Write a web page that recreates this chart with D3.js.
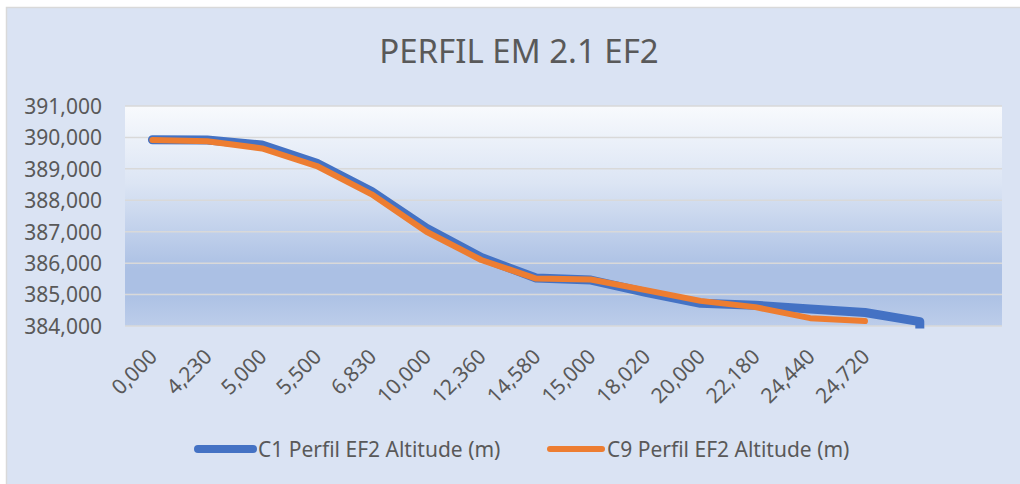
<!DOCTYPE html>
<html>
<head>
<meta charset="utf-8">
<script src="https://cdn.jsdelivr.net/npm/d3@7"></script>
<style>
  html, body { margin: 0; padding: 0; background: #ffffff; }
  svg { display: block; }
  text { font-family: "Noto Sans", "Open Sans", sans-serif; fill: #595959; }
</style>
</head>
<body>
<svg id="chart" width="1020" height="484"></svg>
<script>
// ---- data ----
const categories = ["0,000", "4,230", "5,000", "5,500", "6,830", "10,000", "12,360", "14,580",
                    "15,000", "18,020", "20,000", "22,180", "24,440", "24,720", "", " "];
const seriesNames = ["C1 Perfil EF2 Altitude (m)", "C9 Perfil EF2 Altitude (m)"];
const c1Values = [389925, 389915, 389760, 389180, 388280, 387110, 386180, 385530,
                  385460, 385070, 384720, 384660, 384540, 384430, 384140, 0];
const c9Values = [389920, 389880, 389650, 389090, 388190, 387000, 386100, 385510,
                  385480, 385140, 384800, 384600, 384250, 384160];
const yTicks = [384000, 385000, 386000, 387000, 388000, 389000, 390000, 391000];
const title = "PERFIL EM 2.1 EF2";

// ---- layout ----
const W = 1020, H = 484;
const plot = { left: 125, right: 1002, top: 106, bottom: 326 };
const svg = d3.select("#chart");

// chart area background and border
svg.append("rect").attr("x", 6.5).attr("y", 7.5).attr("width", W).attr("height", H)
  .attr("fill", "#DAE3F3").attr("stroke", "#D9D9D9").attr("stroke-width", 1.5);

// gradient for plot area
const defs = svg.append("defs");
const grad = defs.append("linearGradient").attr("id", "plotGrad")
  .attr("x1", 0).attr("y1", 0).attr("x2", 0).attr("y2", 1);
[[0, "#F8FAFD"], [0.35, "#DCE5F4"], [0.74, "#ABC0E4"], [0.84, "#ABC0E4"], [1, "#BCCDEA"]]
  .forEach(([o, c]) => grad.append("stop").attr("offset", o).attr("stop-color", c));
defs.append("clipPath").attr("id", "plotClip").append("rect")
  .attr("x", plot.left).attr("y", plot.top - 10)
  .attr("width", plot.right - plot.left).attr("height", plot.bottom - plot.top + 12.5);

svg.append("rect").attr("x", plot.left).attr("y", plot.top)
  .attr("width", plot.right - plot.left).attr("height", plot.bottom - plot.top)
  .attr("fill", "url(#plotGrad)");

// scales
const x = d3.scaleBand().domain(categories).range([plot.left, plot.right]).padding(0);
const y = d3.scaleLinear().domain([384000, 391000]).range([plot.bottom, plot.top]);
const cx = (i) => x(categories[i]) + x.bandwidth() / 2;

// gridlines
svg.append("g").selectAll("line").data(yTicks).join("line")
  .attr("x1", plot.left).attr("x2", plot.right)
  .attr("y1", d => y(d)).attr("y2", d => y(d))
  .attr("stroke", "#D9D9D9").attr("stroke-width", 1.5);

// y axis
const yAxis = d3.axisLeft(y).tickValues(yTicks)
  .tickFormat(d => d3.format(",")(d)).tickSize(0).tickPadding(0);
const gy = svg.append("g").attr("transform", `translate(102,0)`).call(yAxis);
gy.select(".domain").remove();
gy.selectAll("text").attr("font-size", 21).attr("fill", "#595959")
  .attr("font-family", '"Noto Sans", sans-serif').attr("dy", "0.35em");

// x axis labels
const xAxis = d3.axisBottom(x).tickSize(0).tickPadding(0);
const gx = svg.append("g").attr("transform", `translate(0,${plot.bottom})`).call(xAxis);
gx.select(".domain").remove();
gx.selectAll(".tick").attr("transform", d => `translate(${x(d) + x.bandwidth() / 2 + 6},32)`);
gx.selectAll("text")
  .attr("font-size", 21).attr("fill", "#595959")
  .attr("font-family", '"Noto Sans", sans-serif')
  .attr("text-anchor", "end").attr("y", 0).attr("dy", 0)
  .attr("transform", "rotate(-45)");

// lines
const line = d3.line().x((d, i) => cx(i)).y(d => y(d));
const gl = svg.append("g").attr("clip-path", "url(#plotClip)");
gl.append("path").datum(c1Values).attr("d", line)
  .attr("fill", "none").attr("stroke", "#4472C4").attr("stroke-width", 9)
  .attr("stroke-linejoin", "round").attr("stroke-linecap", "round");
gl.append("path").datum(c9Values).attr("d", line)
  .attr("fill", "none").attr("stroke", "#ED7D31").attr("stroke-width", 6)
  .attr("stroke-linejoin", "round").attr("stroke-linecap", "round");

// title
svg.append("text").attr("x", 519).attr("y", 63).attr("text-anchor", "middle")
  .attr("font-size", 33).text(title);

// legend
const legendItems = [
  { name: seriesNames[0], color: "#4472C4", w: 8, x0: 198, x1: 253, tx: 258 },
  { name: seriesNames[1], color: "#ED7D31", w: 6, x0: 550, x1: 602, tx: 607 }
];
const lg = svg.append("g");
legendItems.forEach(it => {
  lg.append("line").attr("x1", it.x0).attr("x2", it.x1).attr("y1", 449).attr("y2", 449)
    .attr("stroke", it.color).attr("stroke-width", it.w).attr("stroke-linecap", "round");
  lg.append("text").attr("x", it.tx).attr("y", 456.5).attr("font-size", 21).text(it.name);
});
</script>
</body>
</html>
